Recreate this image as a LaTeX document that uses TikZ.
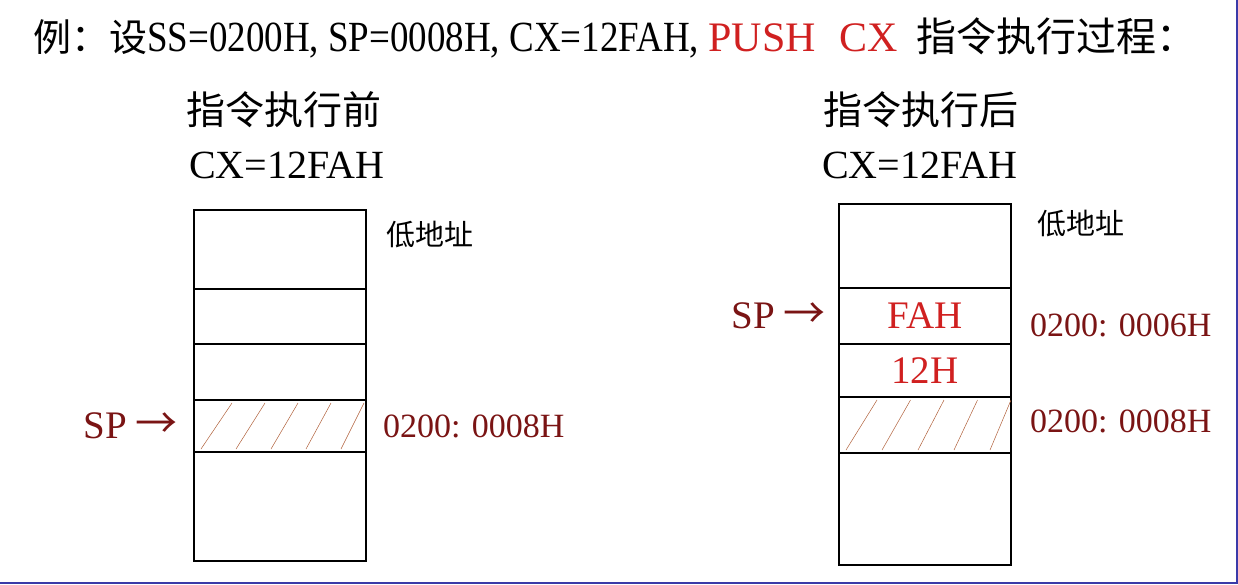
\documentclass[tikz,border=0pt]{standalone}
\usepackage{fontspec}
\setmainfont{Liberation Serif}
\newfontfamily\cjk{Noto Sans CJK SC}
\newfontfamily\narrowrm[FakeStretch=0.86]{Liberation Serif}
\usetikzlibrary{positioning}
\definecolor{spred}{HTML}{7A1414}
\definecolor{valred}{HTML}{D02020}
\definecolor{hatchbrown}{HTML}{B0603A}
\definecolor{edgeblue}{HTML}{3A3AA8}

\begin{document}
\begin{tikzpicture}[x=1pt,y=-1pt]
\tikzset{cell/.style={draw,line width=1.3pt,minimum width=172pt,inner sep=0pt,outer sep=0pt,anchor=north west,text=valred,font=\fontsize{39}{39}\selectfont}}
\tikzset{thickline/.style={line width=2.6pt}}
\tikzset{hatch/.style={draw=hatchbrown,line width=0.5pt}}
\tikzset{addr/.style={inner sep=0pt,anchor=west,text=spred,font=\fontsize{34}{34}\selectfont}}
\tikzset{spmark/.style={inner sep=0pt,text=spred,font=\fontsize{39}{39}\selectfont}}
\tikzset{head/.style={inner sep=0pt,anchor=west}}

\useasboundingbox (0,0) rectangle (1238,584);

% title
\node[head,anchor=base west,font=\fontsize{42}{42}\selectfont] (title) at (33,51)
  {{\cjk\fontsize{38}{38}\selectfont 例：设}{\narrowrm\fontsize{43}{43}\selectfont SS=0200H, SP=0008H, CX=12FAH, }\textcolor{valred}{PUSH\hspace{24pt}CX}\hspace{18pt}{\cjk\fontsize{40}{40}\selectfont 指令执行过程：}};

% before
\node[head,font=\cjk\fontsize{39}{39}\selectfont] (before) at (186,110) {指令执行前};
\node[head,font=\fontsize{40}{40}\selectfont] (cxl) at (189,165) {CX=12FAH};

\node[cell,minimum height=79pt] (l1) at (194,210) {};
\node[cell,minimum height=55pt] (l2) at (l1.south west) {};
\node[cell,minimum height=56pt] (l3) at (l2.south west) {};
\node[cell,minimum height=52pt] (l4) at (l3.south west) {};
\node[cell,minimum height=109pt] (l5) at (l4.south west) {};
\draw[thickline] (l4.north west) -- (l4.north east);
\draw[thickline] (l4.south west) -- (l4.south east);
\foreach \i in {0,...,4}
  \draw[hatch] (l4.south west) ++(7+35*\i,-3) -- ++(31-2*\i,-46);

\node[head,font=\cjk\fontsize{29}{29}\selectfont] (lowl) at (386,235) {低地址};
\node[spmark,left=16pt of l4] (spl) {SP\hspace{9pt}{\cjk\fontsize{42}{42}\selectfont →}};
\node[addr,right=17pt of l4] (al) {0200: 0008H};

% after
\node[head,font=\cjk\fontsize{39}{39}\selectfont] (after) at (823,110) {指令执行后};
\node[head,font=\fontsize{40}{40}\selectfont] (cxr) at (822,165) {CX=12FAH};

\node[cell,minimum height=84pt] (r1) at (839,204) {};
\node[cell,minimum height=56pt] (r2) at (r1.south west) {FAH};
\node[cell,minimum height=53pt] (r3) at (r2.south west) {12H};
\node[cell,minimum height=56pt] (r4) at (r3.south west) {};
\node[cell,minimum height=112pt] (r5) at (r4.south west) {};
\draw[thickline] (r4.south west) -- (r4.south east);
\foreach \i in {0,...,4}
  \draw[hatch] (r4.south west) ++(7+36*\i,-3) -- ++(31-2.5*\i,-50);

\node[head,font=\cjk\fontsize{29}{29}\selectfont] (lowr) at (1037,224) {低地址};
\node[spmark,left=13pt of r2] (spr) {SP\hspace{9pt}{\cjk\fontsize{42}{42}\selectfont →}};
\node[addr,right=19pt of r2,yshift=-9pt] (ar1) {0200: 0006H};
\node[addr,right=19pt of r4,yshift=4pt] (ar2) {0200: 0008H};

% frame edge
\draw[edgeblue,line width=2pt] (0,583) -- (1237,583) -- (1237,0);
\end{tikzpicture}
\end{document}
